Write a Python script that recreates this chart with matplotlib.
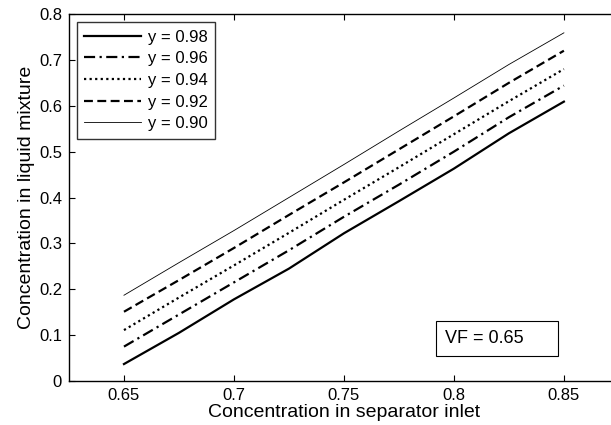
import matplotlib
matplotlib.use('Agg')
import matplotlib.pyplot as plt
from matplotlib.patches import Rectangle

plt.rcParams['font.family'] = ['Liberation Sans', 'DejaVu Sans']

x = [0.65, 0.675, 0.70, 0.725, 0.75, 0.775, 0.80, 0.825, 0.85]
y098 = [0.037, 0.105, 0.178, 0.245, 0.322, 0.392, 0.463, 0.540, 0.609]
y096 = [0.075, 0.145, 0.215, 0.285, 0.358, 0.428, 0.500, 0.575, 0.644]
y094 = [0.111, 0.182, 0.252, 0.323, 0.395, 0.466, 0.538, 0.610, 0.680]
y092 = [0.151, 0.220, 0.290, 0.362, 0.433, 0.505, 0.577, 0.650, 0.720]
y090 = [0.187, 0.258, 0.328, 0.400, 0.472, 0.545, 0.617, 0.690, 0.759]
labels = ['y = 0.98', 'y = 0.96', 'y = 0.94', 'y = 0.92', 'y = 0.90']
xticks = [0.65, 0.7, 0.75, 0.8, 0.85]
yticks = [0, 0.1, 0.2, 0.3, 0.4, 0.5, 0.6, 0.7, 0.8]

fig = plt.figure(figsize=(6.11, 4.25), dpi=100)
ax = fig.add_axes([0.1129, 0.1035, 0.9, 0.8635])

ax.plot(x, y098, color='k', lw=1.6, ls='-', label=labels[0])
ax.plot(x, y096, color='k', lw=1.6, ls=(0, (5, 2, 1, 2)), label=labels[1])
ax.plot(x, y094, color='k', lw=1.6, ls=(0, (1, 1.5)), label=labels[2])
ax.plot(x, y092, color='k', lw=1.6, ls=(0, (4, 2)), label=labels[3])
ax.plot(x, y090, color='k', lw=0.6, ls='-', label=labels[4])

ax.set_xlim(0.625, 0.875)
ax.set_ylim(0, 0.8)
ax.set_xticks(xticks)
ax.set_xticklabels(['0.65', '0.7', '0.75', '0.8', '0.85'])
ax.set_yticks(yticks)
ax.set_yticklabels(['0', '0.1', '0.2', '0.3', '0.4', '0.5', '0.6', '0.7', '0.8'])
ax.tick_params(direction='in', top=True, right=False, length=4, width=0.8,
               labelsize=12, pad=5)
ax.spines['right'].set_visible(False)
for s in ['left', 'bottom', 'top']:
    ax.spines[s].set_linewidth(1.0)

ax.set_xlabel('Concentration in separator inlet', fontsize=14, labelpad=1)
ax.set_ylabel('Concentration in liquid mixture', fontsize=14, labelpad=3)

leg = ax.legend(loc='upper left', bbox_to_anchor=(0.0145, 0.978), borderaxespad=0,
                fancybox=False, edgecolor='k', fontsize=12, handlelength=3.4,
                labelspacing=0.4, borderpad=0.45, handletextpad=0.4)
leg.get_frame().set_linewidth(1.0)

ax.add_patch(Rectangle((0.7918, 0.0545), 0.0555, 0.0765, fill=False, ec='k', lw=0.8))
ax.text(0.7959, 0.093, 'VF = 0.65', fontsize=13, va='center', ha='left')

fig.savefig('out.png', dpi=100)
